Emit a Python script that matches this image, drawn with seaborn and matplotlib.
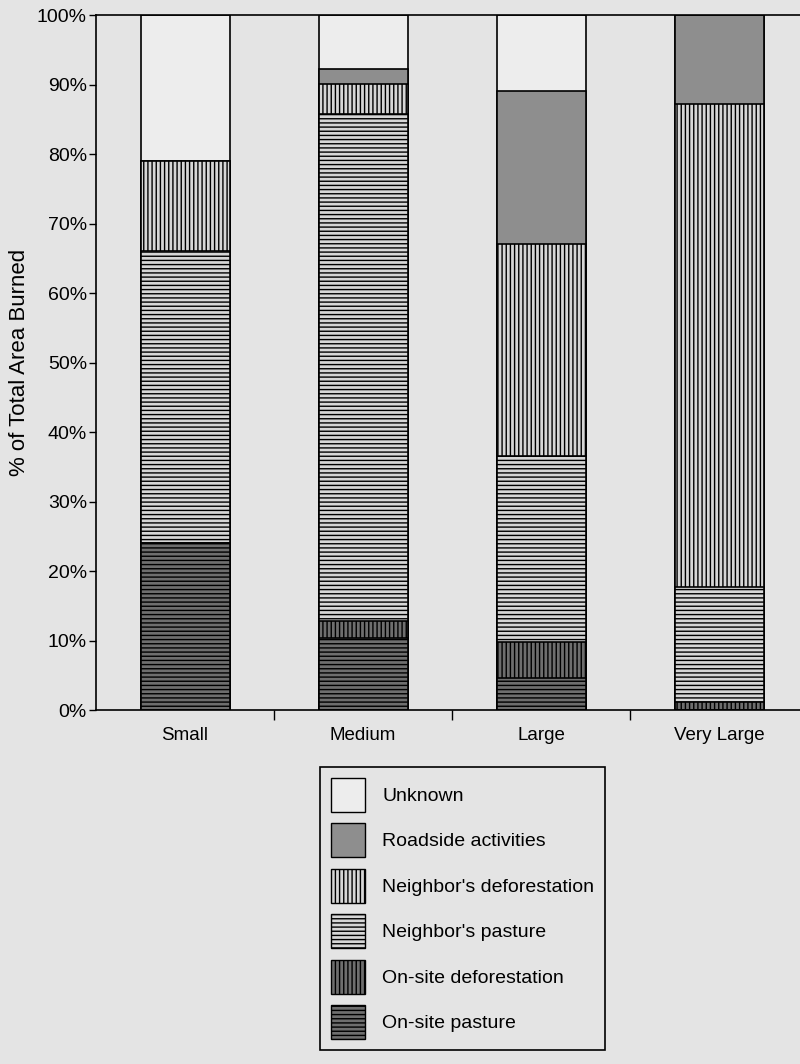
import numpy as np
import pandas as pd

import matplotlib
matplotlib.use("Agg")
import matplotlib.pyplot as plt
from matplotlib.patches import Patch
import seaborn as sns

# %% data (percent of total area burned)
sizes = ["Small", "Medium", "Large", "Very Large"]
onsite_pasture = [24.0, 10.4, 4.6, 0.0]
onsite_deforest = [0.0, 2.4, 5.2, 1.1]
neighbor_pasture = [42.0, 73.0, 26.7, 16.6]
neighbor_deforest = [13.0, 4.3, 30.5, 69.5]
roadside = [0.0, 2.1, 22.0, 12.8]
unknown = [21.0, 7.8, 11.0, 0.0]

layers = ["On-site pasture", "On-site deforestation", "Neighbor's pasture",
          "Neighbor's deforestation", "Roadside activities", "Unknown"]

# fill, hatch for each layer
styles = {
    "Unknown": ("#ededed", ""),
    "Roadside activities": ("#8e8e8e", ""),
    "Neighbor's deforestation": ("#d6d6d6", "||||"),
    "Neighbor's pasture": ("#d6d6d6", "----"),
    "On-site deforestation": ("#6e6e6e", "||||"),
    "On-site pasture": ("#6e6e6e", "----"),
}

df = pd.DataFrame(
    {
        "size": sizes,
        "On-site pasture": onsite_pasture,
        "On-site deforestation": onsite_deforest,
        "Neighbor's pasture": neighbor_pasture,
        "Neighbor's deforestation": neighbor_deforest,
        "Roadside activities": roadside,
        "Unknown": unknown,
    }
)
cum = df[layers].cumsum(axis=1)
cum["size"] = df["size"]

# %% plot
sns.set_style("ticks")
plt.rcParams["font.family"] = ["Liberation Sans", "DejaVu Sans"]
plt.rcParams["hatch.linewidth"] = 1.0
for k in ["text.color", "axes.labelcolor", "xtick.color", "ytick.color"]:
    plt.rcParams[k] = "black"
bg = "#e4e4e4"

fig = plt.figure(figsize=(8, 10.64), dpi=100, facecolor=bg)
ax = fig.add_axes([0.12, 0.3327, 0.89, 0.6532])
ax.set_facecolor(bg)

# draw from the top of the stack down so each layer covers the one above
for name in layers[::-1]:
    face, hatch = styles[name]
    sns.barplot(
        data=cum, x="size", y=name, order=sizes, color=face, saturation=1,
        width=0.5, edgecolor="black", linewidth=1.2, errorbar=None, ax=ax,
    )
    for p in ax.containers[-1].patches:
        p.set_hatch(hatch)

ax.set_xlim(-0.5, 3.5)
ax.set_ylim(0, 100)
ax.set_yticks(np.arange(0, 101, 10))
ax.set_yticklabels([f"{v}%" for v in range(0, 101, 10)], fontsize=14)
ax.set_xticks(range(len(sizes)))
ax.set_xticklabels(sizes, fontsize=13.5)
ax.set_xticks([0.5, 1.5, 2.5], minor=True)
ax.tick_params(axis="x", which="major", length=0, pad=12)
ax.tick_params(axis="x", which="minor", length=7, width=1, direction="out")
ax.tick_params(axis="y", length=5, width=1, pad=1.5, direction="out")
ax.set_xlabel("")
ax.set_ylabel("% of Total Area Burned", fontsize=16, labelpad=5)
for s in ax.spines.values():
    s.set_linewidth(1.2)
    s.set_color("black")

handles = [
    Patch(facecolor=styles[n][0], edgecolor="black", hatch=styles[n][1], label=n)
    for n in layers[::-1]
]
leg = fig.legend(
    handles=handles, loc="upper left", bbox_to_anchor=(0.40, 1 - 767 / 1064),
    fontsize=14, frameon=True, fancybox=False, shadow=False,
    handlelength=1.75, handleheight=2.3, labelspacing=0.6, handletextpad=0.9,
    borderpad=0.55, borderaxespad=0, edgecolor="black", facecolor=bg,
    framealpha=1,
)
leg.get_frame().set_linewidth(1.2)

fig.savefig("out.png", dpi=100, facecolor=bg)
